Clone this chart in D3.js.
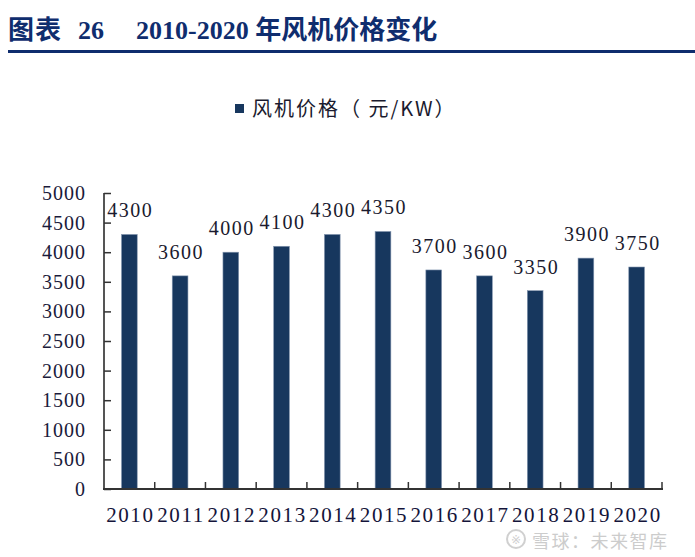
<!DOCTYPE html>
<html>
<head>
<meta charset="utf-8">
<script src="https://cdn.jsdelivr.net/npm/d3@7"></script>
<style>
  body { margin: 0; background: #fff; }
</style>
</head>
<body>
<div id="chart"></div>
<script>
// data
const years = ["2010","2011","2012","2013","2014","2015","2016","2017","2018","2019","2020"];
const prices = [4300, 3600, 4000, 4100, 4300, 4350, 3700, 3600, 3350, 3900, 3750];
const yTicks = [0, 500, 1000, 1500, 2000, 2500, 3000, 3500, 4000, 4500, 5000];
const seriesName = "风机价格（ 元/KW）";

const W = 695, H = 557;
const plot = {left: 104, right: 662, top: 193, bottom: 489};

const svg = d3.select("#chart")
  .append("svg")
    .attr("width", W)
    .attr("height", H);

// title + rule
const title = svg.append("text")
  .attr("x", 8)
  .attr("y", 39)
  .style("font-family", "'Liberation Serif', 'Noto Sans CJK SC', serif")
  .style("font-weight", "bold")
  .style("font-size", "26px")
  .attr("fill", "#0f2d6e");
title.append("tspan").style("letter-spacing", "1px").text("图表");
title.append("tspan").attr("x", 78).text("26");
title.append("tspan").attr("x", 136).text("2010-2020 年风机价格变化");

svg.append("rect")
  .attr("x", 8).attr("y", 50)
  .attr("width", W - 8).attr("height", 3)
  .attr("fill", "#0f2d6e");

// legend
svg.append("rect")
  .attr("x", 235).attr("y", 104)
  .attr("width", 9).attr("height", 9)
  .attr("fill", "#17375e");
svg.append("text")
  .attr("x", 252)
  .attr("y", 116)
  .style("font-family", "'Noto Sans CJK SC', sans-serif")
  .style("font-size", "20px")
  .style("letter-spacing", "2px")
  .attr("fill", "#1a1a2e")
  .text(seriesName);

// scales
const x = d3.scaleBand()
  .domain(years)
  .range([plot.left, plot.right])
  .paddingInner(0.69)
  .paddingOuter(0.345);

const y = d3.scaleLinear()
  .domain([0, 5000])
  .range([plot.bottom, plot.top]);

// y axis
const yAxis = svg.append("g")
  .attr("transform", `translate(${plot.left},0)`)
  .call(d3.axisRight(y).tickValues(yTicks).tickSize(7).tickFormat(""));
yAxis.select(".domain").attr("stroke", "#555").attr("stroke-width", 2).attr("d", `M0,${plot.top}V${plot.bottom}`);
yAxis.selectAll(".tick line").attr("stroke", "#333").attr("stroke-width", 1.5);

svg.append("g")
  .selectAll("text")
  .data(yTicks)
  .join("text")
    .attr("x", 86)
    .attr("y", d => y(d))
    .attr("dy", "0.35em")
    .attr("text-anchor", "end")
    .style("font-family", "'Liberation Serif', serif")
    .style("font-size", "20px")
    .style("letter-spacing", "1px")
    .attr("fill", "#1a1a3a")
    .text(d => d);

// bars
svg.append("g")
  .selectAll("rect")
  .data(prices)
  .join("rect")
    .attr("x", (d, i) => x(years[i]))
    .attr("y", d => y(d))
    .attr("width", x.bandwidth())
    .attr("height", d => y(0) - y(d))
    .attr("fill", "#17375e")
    .attr("stroke", "#8597b0")
    .attr("stroke-width", 0.6);

// value labels
svg.append("g")
  .selectAll("text")
  .data(prices)
  .join("text")
    .attr("x", (d, i) => x(years[i]) + x.bandwidth() / 2 + 1)
    .attr("y", d => y(d) - 17)
    .attr("text-anchor", "middle")
    .style("font-family", "'Liberation Serif', serif")
    .style("font-size", "20px")
    .style("letter-spacing", "1.5px")
    .attr("fill", "#1a1a2e")
    .text(d => d);

// x axis
const step = (plot.right - plot.left) / years.length;
const xEdges = d3.range(years.length + 1).map(i => plot.left + i * step);
const xAxis = svg.append("g");
xAxis.append("line")
  .attr("x1", plot.left - 1).attr("x2", plot.right + 1)
  .attr("y1", plot.bottom).attr("y2", plot.bottom)
  .attr("stroke", "#333").attr("stroke-width", 2);
xAxis.selectAll(".xt")
  .data(xEdges.slice(1))
  .join("line")
    .attr("class", "xt")
    .attr("x1", d => d).attr("x2", d => d)
    .attr("y1", plot.bottom).attr("y2", plot.bottom - 7)
    .attr("stroke", "#333").attr("stroke-width", 1.5);

svg.append("g")
  .selectAll("text")
  .data(years)
  .join("text")
    .attr("x", d => x(d) + x.bandwidth() / 2 + 1)
    .attr("y", 522)
    .attr("text-anchor", "middle")
    .style("font-family", "'Liberation Serif', serif")
    .style("font-size", "21px")
    .style("letter-spacing", "1.6px")
    .attr("fill", "#14143a")
    .text(d => d);

// watermark
const wm = svg.append("g").attr("opacity", 0.85);
wm.append("circle")
  .attr("cx", 516).attr("cy", 539).attr("r", 9)
  .attr("fill", "none").attr("stroke", "#c8c8c8").attr("stroke-width", 2);
wm.append("text")
  .attr("x", 516).attr("y", 544)
  .attr("text-anchor", "middle")
  .style("font-family", "'DejaVu Sans', sans-serif")
  .style("font-size", "12px")
  .attr("fill", "#c8c8c8")
  .text("※");
wm.append("text")
  .attr("x", 532).attr("y", 548)
  .style("font-family", "'Noto Sans CJK SC', sans-serif")
  .style("font-size", "18px")
  .style("letter-spacing", "1.5px")
  .attr("fill", "#c4c4c4")
  .text("雪球：未来智库");
</script>
</body>
</html>
